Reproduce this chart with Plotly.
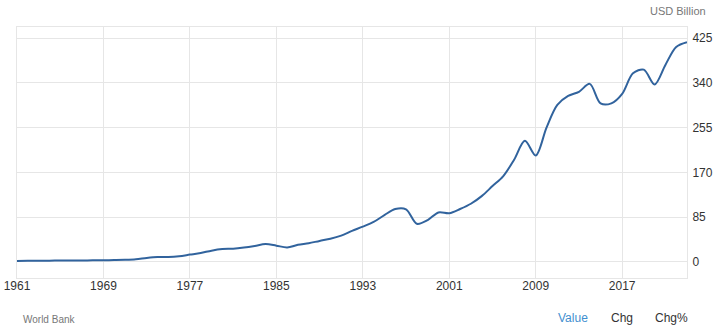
import plotly.graph_objects as go

# Annual values, USD Billion
years = list(range(1961, 2024))
values = [
    2.0, 2.1, 2.3, 2.5, 2.7, 2.9, 3.0, 3.1, 3.4, 3.6,          # 1961-1970
    4.0, 5.0, 7.5, 9.3, 9.5, 11.0, 14.0, 17.0, 21.5, 24.5,     # 1971-1980
    25.3, 27.5, 30.5, 34.0, 31.0, 27.5, 32.5, 35.5, 40.0, 44.0,  # 1981-1990
    50.0, 59.0, 67.0, 76.0, 89.0, 100.5, 100.0, 72.5, 79.5, 94.0,  # 1991-2000
    92.5, 100.5, 110.5, 125.0, 144.0, 163.0, 194.0, 230.0, 202.0, 255.0,  # 2001-2010
    298.0, 315.0, 323.0, 338.0, 301.0, 301.0, 319.0, 358.0, 365.0, 337.0,  # 2011-2020
    374.0, 408.0, 417.0,                                        # 2021-2023
]

x_ticks = [1961, 1969, 1977, 1985, 1993, 2001, 2009, 2017]
y_ticks = [0, 85, 170, 255, 340, 425]

GRID = "#e6e6e6"
TEXT = "#333333"
FONT = "Liberation Sans, Arial, sans-serif"

fig = go.Figure()
fig.add_trace(go.Scatter(
    x=years, y=values, mode="lines",
    line=dict(color="#31639d", width=2, shape="spline", smoothing=0.9),
    hoverinfo="x+y", showlegend=False,
))

fig.update_layout(
    width=720, height=331,
    margin=dict(l=17, r=33, t=27, b=53, pad=0),
    paper_bgcolor="white", plot_bgcolor="white",
    font=dict(family=FONT, size=12, color=TEXT),
    xaxis=dict(
        range=[1961, 2023], tickvals=x_ticks, ticktext=[str(v) for v in x_ticks],
        showgrid=True, gridcolor=GRID, gridwidth=1,
        showline=True, linecolor=GRID, mirror=True,
        zeroline=False, ticks="", ticklabelstandoff=-3, automargin=False,
        tickfont=dict(size=12, color=TEXT),
    ),
    yaxis=dict(
        range=[-30.4, 445.9], tickvals=y_ticks, side="right",
        showgrid=True, gridcolor=GRID, gridwidth=1,
        showline=True, linecolor=GRID, mirror=True,
        zeroline=False, ticks="", ticklabelstandoff=2, automargin=False,
        tickfont=dict(size=12, color=TEXT),
    ),
    annotations=[
        dict(text="USD Billion", xref="paper", yref="paper", x=1.0, y=1.0,
             xshift=21, yshift=16, xanchor="right", yanchor="middle",
             showarrow=False, font=dict(size=11, color="#777777")),
        dict(text="World Bank", xref="paper", yref="paper", x=0, y=0,
             xshift=4, yshift=-41, xanchor="left", yanchor="middle",
             showarrow=False, font=dict(size=10, color="#777777")),
        dict(text="Value", xref="paper", yref="paper", x=0, y=0,
             xshift=539, yshift=-40, xanchor="left", yanchor="middle",
             showarrow=False, font=dict(size=12, color="#3f8fd0")),
        dict(text="Chg", xref="paper", yref="paper", x=0, y=0,
             xshift=592, yshift=-40, xanchor="left", yanchor="middle",
             showarrow=False, font=dict(size=12, color=TEXT)),
        dict(text="Chg%", xref="paper", yref="paper", x=0, y=0,
             xshift=636, yshift=-40, xanchor="left", yanchor="middle",
             showarrow=False, font=dict(size=12, color=TEXT)),
    ],
)

fig.write_html("out.html")
